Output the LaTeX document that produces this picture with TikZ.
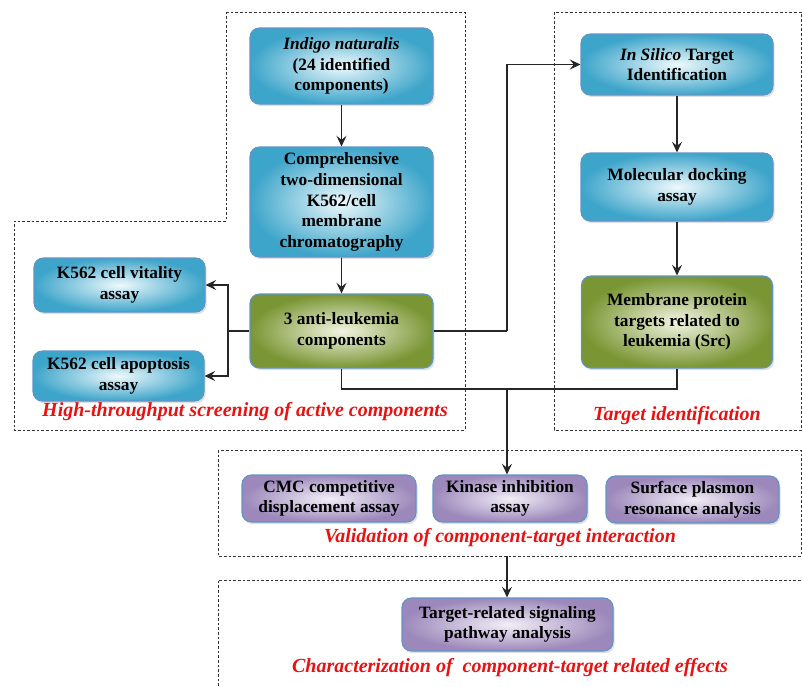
\documentclass[tikz,border=0pt]{standalone}
\usepackage{fontspec}
\setmainfont{Liberation Serif}
\usetikzlibrary{arrows.meta, shadows, calc, positioning}

\definecolor{blueedge}{RGB}{62,165,202}
\definecolor{bluein}{RGB}{238,249,252}
\definecolor{greenedge}{RGB}{122,150,52}
\definecolor{greenin}{RGB}{242,244,226}
\definecolor{purpedge}{RGB}{156,136,186}
\definecolor{purpin}{RGB}{242,238,247}
\definecolor{boxline}{RGB}{96,148,200}
\definecolor{labred}{RGB}{232,18,18}

\tikzset{
  box/.style={draw=boxline, line width=0.8pt, rounded corners=7pt, align=center,
    font=\bfseries\fontsize{13}{15.5}\selectfont, inner sep=2pt,
    drop shadow={opacity=0.25, shadow xshift=1.2pt, shadow yshift=-1.6pt}},
  bluebox/.style={box, inner color=bluein, outer color=blueedge},
  greenbox/.style={box, inner color=greenin, outer color=greenedge},
  purpbox/.style={box, inner color=purpin, outer color=purpedge},
  region/.style={draw=black!80, line width=0.6pt, dash pattern=on 2pt off 1.5pt},
  reglabel/.style={text=labred, font=\bfseries\itshape\fontsize{15}{18}\selectfont},
  link/.style={draw=black!85, line width=0.8pt},
  arr/.style={link, -{Stealth[length=8pt, width=7.5pt, inset=3pt]}}
}

\begin{document}
\begin{tikzpicture}[x=0.75pt, y=-0.75pt]
    \useasboundingbox (0,0) rectangle (802,686);

    % dashed regions
    \draw[region] (226,12) -- (465,12) -- (465,430) -- (14,430) -- (14,221) -- (226,221) -- cycle;
    \draw[region] (554,12) rectangle (801,430);
    \draw[region] (218,450) rectangle (801,556);
    \draw[region] (218,686) -- (218,580) -- (801,580);

    % screening
    \node[bluebox, minimum width=183*0.75pt, minimum height=76*0.75pt] (indigo) at (341.5,66)
        {\textit{Indigo naturalis}\\(24 identified\\components)};
    \node[bluebox, minimum width=183*0.75pt, minimum height=110*0.75pt] (chrom) at (341.5,202)
        {Comprehensive\\two-dimensional\\K562/cell\\membrane\\chromatography};
    \node[greenbox, minimum width=183*0.75pt, minimum height=74*0.75pt] (anti) at (341.5,331)
        {3 anti-leukemia\\components};
    \node[bluebox, minimum width=171*0.75pt, minimum height=54*0.75pt] (vital) at (119.5,285)
        {K562 cell vitality\\assay};
    \node[bluebox, minimum width=171*0.75pt, minimum height=50*0.75pt] (apopt) at (118.5,376)
        {K562 cell apoptosis\\assay};
    \node[reglabel] (screenlab) at (245,412) {High-throughput screening of active components};

    % target identification
    \node[bluebox, minimum width=192*0.75pt, minimum height=61*0.75pt] (silico) at (677,64.5)
        {\textit{In Silico} Target\\Identification};
    \node[bluebox, minimum width=192*0.75pt, minimum height=68*0.75pt] (dock) at (677,187)
        {Molecular docking\\assay};
    \node[greenbox, minimum width=191*0.75pt, minimum height=92*0.75pt] (memb) at (677,322)
        {Membrane protein\\targets related to\\leukemia (Src)};
    \node[reglabel] (targetlab) at (677,416) {Target identification};

    % validation
    \node[purpbox, minimum width=174*0.75pt, minimum height=47*0.75pt] (cmc) at (329,498.5)
        {CMC competitive\\displacement assay};
    \node[purpbox, minimum width=154*0.75pt, minimum height=47*0.75pt] (kinase) at (510,498.5)
        {Kinase inhibition\\assay};
    \node[purpbox, minimum width=173*0.75pt, minimum height=47*0.75pt] (spr) at (692.5,499.5)
        {Surface plasmon\\resonance analysis};
    \node[reglabel] (validlab) at (500,538) {Validation of component-target interaction};

    % characterization
    \node[purpbox, minimum width=211*0.75pt, minimum height=53*0.75pt] (pathway) at (507.5,624.5)
        {Target-related signaling\\pathway analysis};
    \node[reglabel] (charlab) at (510,668) {Characterization of \ component-target related effects};

    % connectors
    \coordinate (split) at (228,331);
    \coordinate (rise) at (507,331);
    \coordinate (join) at (507,389);
    \coordinate (validbot) at (507,556);
    \draw[arr] (indigo) -- (chrom);
    \draw[arr] (chrom) -- (anti);
    \draw[link] (anti.west) -- (split);
    \draw[arr] (split) |- (vital.east);
    \draw[arr] (split) |- (apopt.east);
    \draw[link] (anti.east) -- (rise);
    \draw[arr] (rise) |- (silico.west);
    \draw[arr] (silico) -- (dock);
    \draw[arr] (dock) -- (memb);
    \draw[link] (anti.south) |- (join) -| (memb.south);
    \draw[arr] (join) -- (join |- kinase.north);
    \draw[arr] (validbot) -- (validbot |- pathway.north);
\end{tikzpicture}
\end{document}
